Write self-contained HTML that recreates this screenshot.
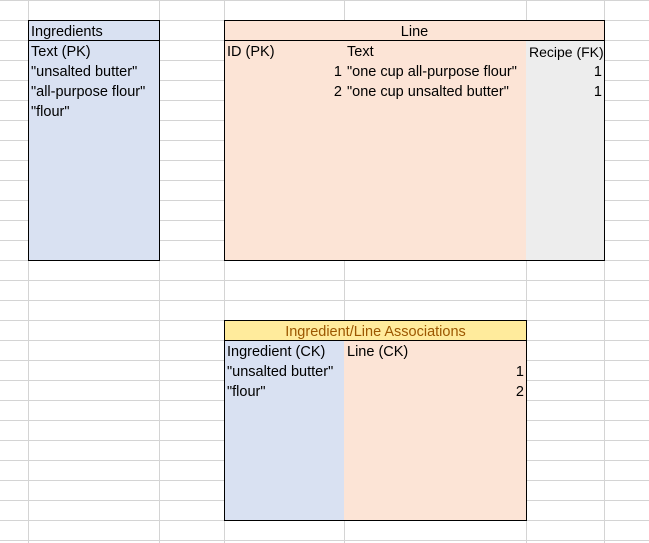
<!DOCTYPE html>
<html><head><style>
html,body{margin:0;padding:0}
body{width:649px;height:543px;position:relative;overflow:hidden;background:#fff;font-family:"Liberation Sans",Arial,sans-serif;font-size:14.5px;color:#000}
.h{position:absolute;left:0;width:649px;height:1px;background:#d4d4d4}
.v{position:absolute;top:0;height:543px;width:1px;background:#d4d4d4}
.box{position:absolute;box-sizing:border-box;border:1px solid #000}
.f{position:absolute}
.t{position:absolute;line-height:20px;white-space:nowrap;margin-top:2px}
.r{text-align:right}
</style></head><body>
<div id="g"></div>
<script>
var g=document.getElementById('g'),s='';
for(var y=0;y<=540;y+=20)s+='<div class="h" style="top:'+y+'px"></div>';
[28,159,224,344,526,604].forEach(function(x){s+='<div class="v" style="left:'+x+'px"></div>'});
g.innerHTML=s;
</script>
<!-- Ingredients -->
<div class="f" style="left:28px;top:20px;width:132px;height:241px;background:#d9e1f2"></div>
<div class="box" style="left:28px;top:20px;width:132px;height:241px"></div>
<div class="f" style="left:28px;top:40px;width:132px;height:1px;background:#000"></div>
<div class="t" style="left:31px;top:20px">Ingredients</div>
<div class="t" style="left:31px;top:40px">Text (PK)</div>
<div class="t" style="left:31px;top:60px">"unsalted butter"</div>
<div class="t" style="left:31px;top:80px">"all-purpose flour"</div>
<div class="t" style="left:31px;top:100px">"flour"</div>
<!-- Line -->
<div class="f" style="left:224px;top:20px;width:381px;height:241px;background:#fce4d6"></div>
<div class="f" style="left:526px;top:40px;width:79px;height:221px;background:#ededed"></div>
<div class="box" style="left:224px;top:20px;width:381px;height:241px"></div>
<div class="f" style="left:224px;top:40px;width:381px;height:1px;background:#000"></div>
<div class="t" style="left:224px;top:20px;width:381px;text-align:center">Line</div>
<div class="t" style="left:227px;top:40px">ID (PK)</div>
<div class="t" style="left:347px;top:40px">Text</div>
<div class="t" style="left:529px;top:40px;font-size:14px">Recipe (FK)</div>
<div class="t r" style="left:224px;top:60px;width:118px">1</div>
<div class="t r" style="left:224px;top:80px;width:118px">2</div>
<div class="t" style="left:347px;top:60px">"one cup all-purpose flour"</div>
<div class="t" style="left:347px;top:80px">"one cup unsalted butter"</div>
<div class="t r" style="left:526px;top:60px;width:76px">1</div>
<div class="t r" style="left:526px;top:80px;width:76px">1</div>
<!-- Associations -->
<div class="f" style="left:224px;top:340px;width:120px;height:181px;background:#d9e1f2"></div>
<div class="f" style="left:344px;top:340px;width:183px;height:181px;background:#fce4d6"></div>
<div class="f" style="left:224px;top:320px;width:303px;height:20px;background:#ffeb9c"></div>
<div class="box" style="left:224px;top:320px;width:303px;height:201px"></div>
<div class="f" style="left:224px;top:340px;width:303px;height:1px;background:#000"></div>
<div class="t" style="left:224px;top:320px;width:303px;text-align:center;color:#9c5700">Ingredient/Line Associations</div>
<div class="t" style="left:227px;top:340px">Ingredient (CK)</div>
<div class="t" style="left:347px;top:340px">Line (CK)</div>
<div class="t" style="left:227px;top:360px">"unsalted butter"</div>
<div class="t" style="left:227px;top:380px">"flour"</div>
<div class="t r" style="left:344px;top:360px;width:180px">1</div>
<div class="t r" style="left:344px;top:380px;width:180px">2</div>
</body></html>
